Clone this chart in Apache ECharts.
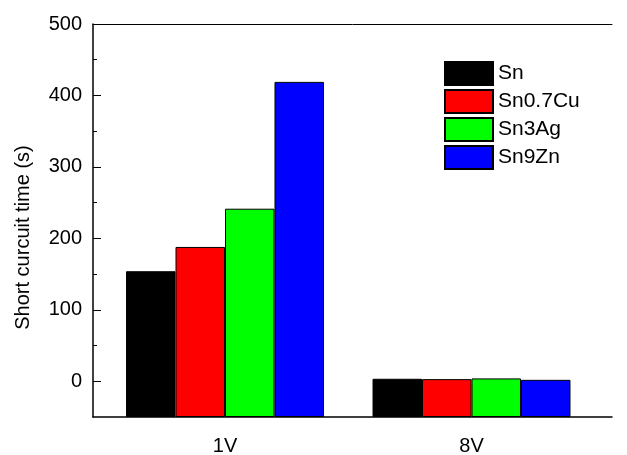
<!DOCTYPE html>
<html>
<head>
<meta charset="utf-8">
<script src="https://cdn.jsdelivr.net/npm/echarts@6/dist/echarts.min.js"></script>
<style>html,body{margin:0;padding:0;background:#fff}#c{width:627px;height:455px}</style>
</head>
<body>
<div id="c"></div>
<script>
const categories = ['1V', '8V'];
const seriesNames = ['Sn', 'Sn0.7Cu', 'Sn3Ag', 'Sn9Zn'];
const snValues = [154, 3.5];
const sn07CuValues = [188, 3];
const sn3AgValues = [241.5, 4];
const sn9ZnValues = [419, 2];
const seriesColors = ['#000000', '#ff0000', '#00ff00', '#0000ff'];
const yMajorTicks = [0, 100, 200, 300, 400, 500];
const yMinorTicks = [50, 150, 250, 350, 450];
const yMin = -50, yMax = 500;

const allValues = [snValues, sn07CuValues, sn3AgValues, sn9ZnValues];
const font = 'Liberation Sans, Arial, sans-serif';
const chart = echarts.init(document.getElementById('c'), null, {renderer: 'canvas'});

// bars start at the bottom of the axis (yMin); hidden axis offset by yMin
const series = seriesNames.map((name, i) => ({
  name: name,
  type: 'bar',
  xAxisIndex: 2,
  yAxisIndex: 2,
  data: allValues[i].map(v => v - yMin),
  barGap: '0%',
  barCategoryGap: '19.7%',
  itemStyle: {color: seriesColors[i], borderColor: '#000', borderWidth: 1},
  emphasis: {disabled: true}
}));

chart.setOption({
  animation: false,
  backgroundColor: '#fff',
  textStyle: {fontFamily: font},
  grid: [
    {left: 93, right: 15, top: 24, bottom: 38, outerBoundsMode: 'none', containLabel: false},
    {left: 101.75, right: 32.25, top: 24, bottom: 38, outerBoundsMode: 'none', containLabel: false}
  ],
  legend: {
    orient: 'vertical',
    left: 444, top: 61, padding: 0,
    itemWidth: 48, itemHeight: 23, itemGap: 3,
    icon: 'rect',
    data: seriesNames,
    textStyle: {fontSize: 21, color: '#000', fontFamily: font},
    selectedMode: false
  },
  xAxis: [
    {gridIndex: 0, type: 'value', min: 0, max: 1, position: 'bottom',
     axisLine: {show: true, onZero: false, lineStyle: {color: '#000', width: 1.5}},
     axisTick: {show: false}, axisLabel: {show: false}, splitLine: {show: false}},
    {gridIndex: 0, type: 'value', min: 0, max: 1, position: 'top',
     axisLine: {show: true, onZero: false, lineStyle: {color: '#000', width: 1}},
     axisTick: {show: false}, axisLabel: {show: false}, splitLine: {show: false}},
    {gridIndex: 1, type: 'category', data: categories, position: 'bottom',
     axisLine: {show: false, onZero: false}, axisTick: {show: false}, splitLine: {show: false},
     axisLabel: {fontSize: 20, color: '#000', margin: 19, fontFamily: font}}
  ],
  yAxis: [
    {gridIndex: 0, type: 'value', min: yMin, max: yMax, position: 'left',
     name: 'Short curcuit time (s)', nameLocation: 'middle', nameGap: 60,
     nameTextStyle: {fontSize: 20, color: '#000', fontFamily: font, padding: [0, 34, 0, 0]},
     axisLine: {show: true, onZero: false, lineStyle: {color: '#000', width: 1.5}},
     axisTick: {show: true, inside: true, length: 8, customValues: yMajorTicks, lineStyle: {color: '#000', width: 1}},
     axisLabel: {fontSize: 20, color: '#000', margin: 11, customValues: yMajorTicks, fontFamily: font},
     splitLine: {show: false}},
    {gridIndex: 0, type: 'value', min: yMin, max: yMax, position: 'left', offset: 0,
     axisLine: {show: false, onZero: false},
     axisTick: {show: true, inside: true, length: 4, customValues: yMinorTicks, lineStyle: {color: '#000', width: 1}},
     axisLabel: {show: false}, splitLine: {show: false}},
    {gridIndex: 1, type: 'value', min: 0, max: yMax - yMin, show: false, splitLine: {show: false}}
  ],
  series: series
});
</script>
</body>
</html>
